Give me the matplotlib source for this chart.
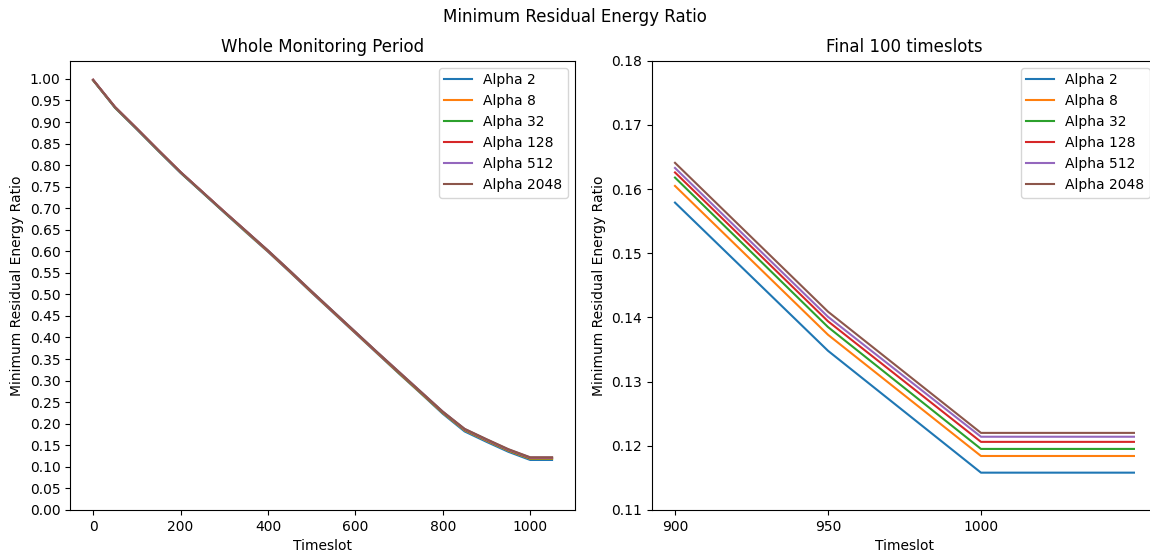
import matplotlib
matplotlib.use("Agg")
import matplotlib.pyplot as plt

# -------------------------------
# Minimum residual energy ratio per alpha value
# -------------------------------

timeslots = [0, 50, 100, 150, 200, 250, 300, 350, 400, 450, 500,
             550, 600, 650, 700, 750, 800, 850, 900, 950, 1000, 1050]

labels = ['Alpha 2', 'Alpha 8', 'Alpha 32', 'Alpha 128', 'Alpha 512', 'Alpha 2048']

alpha_2 = [0.997, 0.933, 0.883, 0.832, 0.782, 0.736, 0.690, 0.644, 0.599, 0.552, 0.504,
           0.457, 0.410, 0.363, 0.316, 0.270, 0.223, 0.1820, 0.1579, 0.1348, 0.1158, 0.1158]
alpha_8 = [0.997, 0.934, 0.884, 0.833, 0.783, 0.737, 0.691, 0.645, 0.600, 0.553, 0.505,
           0.458, 0.411, 0.364, 0.317, 0.271, 0.225, 0.1847, 0.1605, 0.1373, 0.1184, 0.1184]
alpha_32 = [0.997, 0.934, 0.884, 0.833, 0.783, 0.737, 0.691, 0.646, 0.601, 0.554, 0.506,
            0.459, 0.412, 0.365, 0.318, 0.272, 0.226, 0.1860, 0.1618, 0.1385, 0.1195, 0.1195]
alpha_128 = [0.998, 0.935, 0.885, 0.834, 0.784, 0.738, 0.692, 0.647, 0.601, 0.554, 0.506,
             0.459, 0.412, 0.365, 0.319, 0.273, 0.227, 0.1868, 0.1626, 0.1394, 0.1206, 0.1206]
alpha_512 = [0.998, 0.935, 0.885, 0.834, 0.784, 0.738, 0.692, 0.647, 0.602, 0.555, 0.507,
             0.460, 0.413, 0.366, 0.320, 0.274, 0.228, 0.1875, 0.1633, 0.1401, 0.1214, 0.1214]
alpha_2048 = [0.998, 0.935, 0.885, 0.834, 0.784, 0.738, 0.692, 0.647, 0.602, 0.555, 0.507,
              0.460, 0.413, 0.366, 0.320, 0.274, 0.228, 0.1880, 0.1641, 0.1409, 0.1220, 0.1220]

series = [alpha_2, alpha_8, alpha_32, alpha_128, alpha_512, alpha_2048]

# index of timeslot 900, start of the zoomed view
tail = timeslots.index(900)

left_yticks = [i * 0.05 for i in range(21)]
right_yticks = [0.11, 0.12, 0.13, 0.14, 0.15, 0.16, 0.17, 0.18]
right_xticks = [900, 950, 1000]

# --------------------------------
# Plot
# --------------------------------

fig = plt.figure(figsize=(11.5, 5.53), dpi=100)
ax1 = fig.add_axes([0.061, 0.078, 0.439, 0.812])
ax2 = fig.add_axes([0.567, 0.078, 0.439, 0.812])

for vals, lab in zip(series, labels):
    ax1.plot(timeslots, vals, label=lab)
ax1.set_title("Whole Monitoring Period")
ax1.set_xlabel("Timeslot")
ax1.set_ylabel("Minimum Residual Energy Ratio")
ax1.set_yticks(left_yticks)
ax1.set_ylim(0, 1.042)
ax1.legend(loc='upper right')

for vals, lab in zip(series, labels):
    ax2.plot(timeslots[tail:], vals[tail:], label=lab)
ax2.set_title("Final 100 timeslots")
ax2.set_xlabel("Timeslot")
ax2.set_ylabel("Minimum Residual Energy Ratio")
ax2.set_xticks(right_xticks)
ax2.set_yticks(right_yticks)
ax2.set_ylim(0.11, 0.18)
ax2.legend(loc='upper right')

fig.suptitle("Minimum Residual Energy Ratio", y=0.985)

plt.savefig("out.png", dpi=100)
